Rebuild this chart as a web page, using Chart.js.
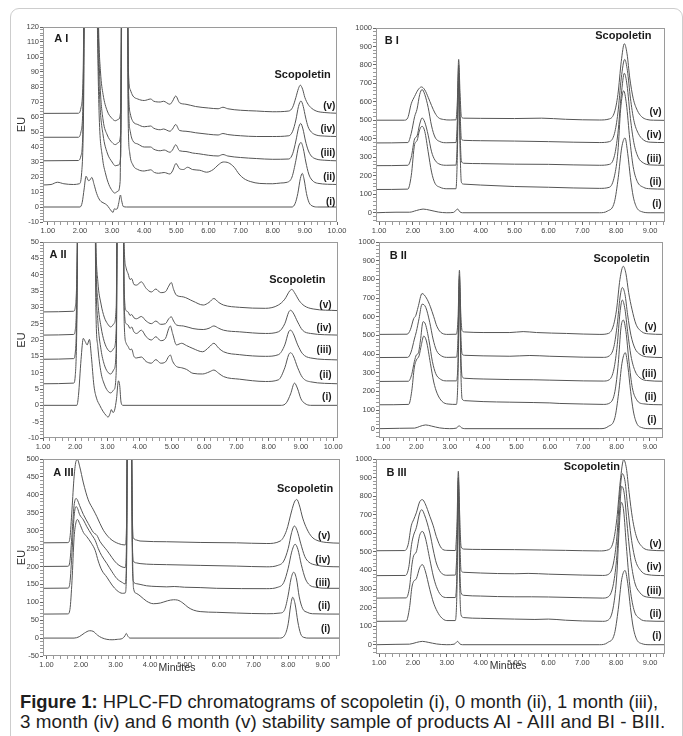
<!DOCTYPE html>
<html>
<head>
<meta charset="utf-8">
<script src="https://cdn.jsdelivr.net/npm/chart.js@4.4.1/dist/chart.umd.min.js"></script>
<style>
  body { margin: 0; background: #fff; width: 683px; height: 736px; overflow: hidden; position: relative;
         font-family: "Liberation Sans", Arial, sans-serif; }
  .frame { position: absolute; left: 10px; top: 8px; width: 673px; height: 800px; box-sizing: border-box;
           border: 1.5px solid #cdcdcd; border-radius: 9px; }
  canvas { position: absolute; }
  .cap { position: absolute; left: 20px; font-size: 18px; line-height: 20px; color: #1e1e1e;
         white-space: nowrap; transform-origin: 0 50%; }
</style>
</head>
<body>
<div class="frame"></div>
<canvas id="aI"></canvas>
<canvas id="bI"></canvas>
<canvas id="aII"></canvas>
<canvas id="bII"></canvas>
<canvas id="aIII"></canvas>
<canvas id="bIII"></canvas>
<div class="cap" id="cap1" style="top:692px"><b>Figure 1:</b> HPLC-FD chromatograms of scopoletin (i), 0 month (ii), 1 month (iii),</div>
<div class="cap" id="cap2" style="top:712px">3 month (iv) and 6 month (v) stability sample of products AI - AIII and BI - BIII.</div>
<script>
// trace names, bottom to top
const traceNames = ['(i)', '(ii)', '(iii)', '(iv)', '(v)'];

// ---- A I : [minutes, EU]
const aI_i = [[0.85,0],[2.0,0],[2.07,3],[2.13,12],[2.19,20.5],[2.27,17.5],[2.31,18],[2.37,19.7],[2.44,15],[2.52,9],[2.62,4.5],[2.75,2.5],[2.83,1.5],[2.92,-1],[2.98,-2.7],[3.03,-3.6],[3.07,-1.2],[3.11,-1.5],[3.16,-1.2],[3.21,3],[3.26,8],[3.3,4],[3.35,0.3],[3.45,0],[8.6,0],[8.7,2.5],[8.78,9],[8.86,19],[8.92,22.4],[8.98,18],[9.05,9],[9.13,3],[9.25,0.5],[9.4,0],[10,0]];
const aI_ii = [[0.85,14.7],[1.1,15],[1.3,16.5],[1.5,15.5],[1.8,15],[1.98,15.5],[2.05,22],[2.11,60],[2.17,200],[2.5,200],[2.55,110],[2.6,60],[2.7,33],[2.8,22],[2.9,15],[3.0,11],[3.08,9.3],[3.18,10.5],[3.25,17],[3.31,200],[3.46,200],[3.5,60],[3.55,36],[3.65,28],[3.8,25],[4.0,24],[4.2,24.8],[4.32,23],[4.45,22.5],[4.62,23],[4.8,22],[4.88,24],[4.99,29],[5.1,25.5],[5.22,25],[5.35,26.5],[5.5,25],[5.73,24.5],[5.94,23.2],[6.15,25],[6.3,28],[6.46,30],[6.62,29.5],[6.8,26.5],[6.95,22],[7.1,19],[7.3,17],[7.6,15.7],[8.0,15.5],[8.25,16],[8.45,16.5],[8.6,20],[8.72,31],[8.8,40],[8.88,43],[8.95,39],[9.03,30],[9.12,22],[9.22,18],[9.4,15.8],[10,15]];
const aI_iii = [[0.85,30.8],[1.95,31],[2.03,34],[2.1,60],[2.16,200],[2.5,200],[2.56,110],[2.62,70],[2.72,48],[2.85,36],[3.0,30],[3.1,27.5],[3.2,28],[3.27,34],[3.32,200],[3.46,200],[3.51,70],[3.57,50],[3.65,44],[3.8,42],[4.0,40],[4.2,40],[4.3,38.5],[4.5,37.5],[4.62,38],[4.8,36.5],[4.88,38],[4.98,41.5],[5.1,37.5],[5.3,37],[5.5,36],[5.7,35.5],[6.0,34.5],[6.3,34],[6.45,35],[6.6,34],[7.0,33],[7.5,32.3],[8.0,31.8],[8.5,32],[8.62,35.5],[8.72,44],[8.8,52.5],[8.87,55.7],[8.94,52],[9.02,44],[9.1,38],[9.2,34],[9.35,32],[9.6,31.2],[10,30.8]];
const aI_iv = [[0.85,46.5],[1.95,46.5],[2.03,50],[2.1,75],[2.16,200],[2.52,200],[2.57,120],[2.63,80],[2.72,58],[2.85,48],[3.0,43],[3.1,41.6],[3.2,43],[3.27,50],[3.32,200],[3.46,200],[3.51,80],[3.57,62],[3.65,57],[3.8,55],[4.0,53.5],[4.2,54],[4.3,52.5],[4.5,51.5],[4.6,52],[4.8,50.5],[4.88,52],[4.98,55],[5.1,51],[5.3,50.5],[5.6,49.5],[6.0,48.5],[6.3,48],[6.45,49],[6.6,48.3],[7.0,47.5],[7.5,47],[8.0,47],[8.5,47.5],[8.62,50.5],[8.72,58],[8.8,67],[8.88,70.7],[8.95,67],[9.02,60],[9.1,53.5],[9.2,50],[9.35,48],[9.6,47.3],[10,47]];
const aI_v = [[0.85,62.4],[1.95,62.5],[2.03,66],[2.1,90],[2.16,200],[2.53,200],[2.58,120],[2.64,90],[2.72,75],[2.85,64],[3.0,59],[3.1,57.5],[3.2,58.5],[3.27,65],[3.32,200],[3.46,200],[3.51,90],[3.57,78],[3.65,74],[3.8,72],[4.0,71],[4.2,72],[4.3,70.5],[4.5,70],[4.6,70.5],[4.8,68.5],[4.88,70.5],[4.98,74],[5.1,69.5],[5.3,68.5],[5.6,67],[6.0,66],[6.3,65.5],[6.45,66.5],[6.6,65.5],[7.0,64.5],[7.5,64],[8.0,63.5],[8.5,64],[8.62,66.5],[8.72,73],[8.8,79],[8.86,81.2],[8.93,78.5],[9.0,73],[9.1,68.5],[9.2,66],[9.35,64],[9.6,63],[10,62.5]];

// ---- B I
const bI_i = [[0.9,0],[1.5,3],[1.9,3],[2.1,12],[2.3,20],[2.5,14],[2.75,4],[3.0,0],[3.2,2],[3.32,20],[3.38,6],[3.46,0],[7.5,0],[7.75,10],[7.95,60],[8.06,190],[8.16,350],[8.26,405],[8.34,320],[8.42,190],[8.5,90],[8.6,30],[8.75,6],[9.0,0],[9.45,0]];
const bI_ii = [[0.9,126],[1.85,128],[1.95,200],[2.05,370],[2.12,390],[2.2,450],[2.27,468],[2.35,440],[2.45,330],[2.55,220],[2.65,160],[2.8,138],[3.0,130],[3.27,130],[3.31,300],[3.35,700],[3.39,350],[3.43,165],[3.5,155],[4.0,150],[5.0,142],[6.0,138],[7.5,132],[7.8,138],[7.95,200],[8.05,330],[8.13,560],[8.22,660],[8.3,590],[8.4,400],[8.5,250],[8.62,170],[8.8,138],[9.0,130],[9.45,128]];
const bI_iii = [[0.9,255],[1.85,257],[1.95,300],[2.05,400],[2.12,415],[2.2,480],[2.27,513],[2.35,490],[2.45,420],[2.55,330],[2.65,285],[2.8,262],[3.0,257],[3.27,258],[3.31,400],[3.35,760],[3.39,450],[3.43,280],[3.5,268],[4.0,266],[5.0,263],[6.0,262],[7.5,257],[7.8,262],[7.95,310],[8.05,430],[8.15,640],[8.24,755],[8.32,690],[8.42,510],[8.52,380],[8.65,300],[8.8,270],[9.0,259],[9.45,257]];
const bI_iv = [[0.9,378],[1.85,380],[1.95,430],[2.05,520],[2.12,560],[2.2,640],[2.27,667],[2.35,640],[2.45,570],[2.55,470],[2.65,410],[2.8,385],[3.0,379],[3.27,380],[3.31,500],[3.35,800],[3.39,560],[3.43,400],[3.5,392],[4.0,390],[5.0,388],[6.0,385],[7.5,380],[7.8,385],[7.95,430],[8.05,540],[8.15,730],[8.25,830],[8.33,770],[8.42,620],[8.52,500],[8.65,430],[8.8,395],[9.0,382],[9.45,380]];
const bI_v = [[0.9,501],[1.75,501],[1.85,515],[1.95,590],[2.05,630],[2.15,665],[2.25,681],[2.35,665],[2.45,625],[2.55,580],[2.65,540],[2.75,515],[2.9,505],[3.1,502],[3.27,503],[3.31,600],[3.35,830],[3.39,650],[3.43,520],[3.5,512],[4.0,511],[5.0,510],[5.8,512],[6.5,506],[7.5,502],[7.8,508],[7.95,545],[8.05,640],[8.15,820],[8.24,915],[8.32,860],[8.4,730],[8.5,620],[8.62,555],[8.75,520],[8.9,505],[9.1,501],[9.45,500]];

// ---- A II
const aII_i = [[1,0],[2.05,0],[2.1,3],[2.18,14],[2.25,20.5],[2.31,19.5],[2.37,18.5],[2.44,20.2],[2.5,15],[2.58,6],[2.66,2.2],[2.76,0],[2.86,-1.8],[2.95,-3],[3.02,-3.6],[3.08,-2.5],[3.12,-1.3],[3.17,-2.2],[3.22,-1.5],[3.28,2],[3.34,7.5],[3.38,6],[3.42,1],[3.48,0],[8.4,0],[8.55,0.8],[8.68,3.5],[8.8,6.8],[8.9,5],[9.0,2],[9.12,0.6],[9.3,0],[10.15,0]];
const aII_ii = [[1,6.6],[1.95,6.8],[2.0,9],[2.05,25],[2.1,80],[2.6,80],[2.64,30],[2.7,18],[2.8,10],[2.9,6.5],[3.0,4.5],[3.1,3.8],[3.2,4.8],[3.27,10],[3.32,80],[3.47,80],[3.52,25],[3.58,19],[3.64,18],[3.7,17],[3.75,17.2],[3.82,15],[3.9,14.5],[4.05,14.8],[4.2,13.4],[4.36,12.9],[4.5,14],[4.65,12.9],[4.8,13.3],[4.9,15],[4.95,15.4],[5.02,13.5],[5.14,11.9],[5.3,11.5],[5.45,11],[5.65,9.8],[5.95,9.6],[6.15,10.2],[6.3,10.8],[6.45,9.8],[6.6,8.8],[7.1,8],[7.9,7.3],[8.3,7.8],[8.5,11.5],[8.62,15.5],[8.68,16.1],[8.76,15.2],[8.9,11.5],[9.05,8.5],[9.3,7.2],[10.15,6.6]];
const aII_iii = [[1,14.1],[1.95,14.3],[2.0,16],[2.05,30],[2.1,80],[2.6,80],[2.64,40],[2.7,26],[2.8,17],[2.9,12.5],[3.0,10.3],[3.1,9.6],[3.2,11],[3.27,17],[3.32,80],[3.47,80],[3.52,30],[3.58,25],[3.64,24.6],[3.7,23.5],[3.75,24],[3.82,22.5],[3.9,22],[4.05,23],[4.2,21],[4.36,20],[4.5,21],[4.65,19.8],[4.8,20.5],[4.9,23.5],[4.95,24.3],[5.02,22],[5.14,18.5],[5.3,19],[5.45,18.3],[5.65,17.4],[5.95,16.4],[6.15,17.8],[6.3,19],[6.45,17.5],[6.6,16.4],[7.1,15.5],[7.9,15],[8.3,15.5],[8.5,18.5],[8.62,22.5],[8.68,23],[8.76,22],[8.9,18.5],[9.05,15.8],[9.3,14.5],[10.15,13.9]];
const aII_iv = [[1,21.5],[1.95,21.7],[2.0,23],[2.05,35],[2.1,80],[2.6,80],[2.64,45],[2.7,32],[2.8,24],[2.9,19.5],[3.0,17.2],[3.1,16.4],[3.2,17.5],[3.27,23],[3.32,80],[3.47,80],[3.52,35],[3.58,29],[3.64,28.6],[3.7,27.5],[3.75,27.8],[3.82,26.8],[3.9,26.5],[4.05,27.2],[4.2,25.8],[4.36,25],[4.5,25.8],[4.65,24.8],[4.8,25],[4.9,26.5],[4.98,27.1],[5.05,25.8],[5.14,24.6],[5.35,24.3],[5.65,23.5],[5.97,23.2],[6.15,23.6],[6.3,24.3],[6.45,23.6],[6.6,23],[7.1,22.5],[7.9,22],[8.3,22.5],[8.5,25],[8.62,28.5],[8.68,29.1],[8.76,28.3],[8.9,25.5],[9.05,23],[9.3,22],[10.15,21.5]];
const aII_v = [[1,28.6],[1.95,28.8],[2.0,30],[2.05,40],[2.1,80],[2.6,80],[2.64,50],[2.7,38],[2.8,31],[2.9,27],[3.0,25],[3.1,24],[3.2,25],[3.27,30],[3.32,80],[3.47,80],[3.52,48],[3.58,42],[3.64,40.3],[3.7,38.5],[3.75,38.8],[3.82,37],[3.9,36.8],[4.05,37.8],[4.2,35.8],[4.36,34.7],[4.5,35.6],[4.65,34.5],[4.8,34.8],[4.9,36.5],[4.98,37.6],[5.05,35.5],[5.14,33.7],[5.35,33.2],[5.65,31.9],[5.97,30.7],[6.15,31.5],[6.3,32.7],[6.45,31.5],[6.6,30.7],[7.1,30],[7.9,29.7],[8.3,30.7],[8.5,32.5],[8.65,35],[8.72,35.5],[8.8,34.5],[8.95,32],[9.1,30.5],[9.38,29.5],[10.15,29]];

// ---- B II
const bII_i = [[0.88,0],[1.5,2],[1.95,3],[2.1,12],[2.28,20],[2.45,14],[2.7,4],[3.0,0],[3.2,3],[3.28,16],[3.35,5],[3.45,0],[7.5,0],[7.75,12],[7.95,60],[8.06,190],[8.16,350],[8.26,407],[8.34,330],[8.42,200],[8.5,95],[8.6,30],[8.75,6],[9.0,0],[9.39,0]];
const bII_ii = [[0.88,128],[1.77,130],[1.86,200],[1.94,330],[2.0,368],[2.08,390],[2.15,450],[2.22,496],[2.3,470],[2.42,350],[2.52,250],[2.62,190],[2.77,146],[2.95,132],[3.2,130],[3.25,300],[3.29,760],[3.33,330],[3.37,160],[3.45,150],[4.0,145],[4.8,142],[5.5,140],[6.0,138],[6.3,135],[7.0,132],[7.6,130],[7.8,138],[7.95,200],[8.05,350],[8.13,540],[8.2,582],[8.28,520],[8.37,360],[8.47,220],[8.6,155],[8.8,133],[9.39,128]];
const bII_iii = [[0.88,253],[1.76,254],[1.86,290],[1.94,360],[2.0,395],[2.06,405],[2.12,470],[2.2,573],[2.27,560],[2.38,470],[2.48,360],[2.58,295],[2.72,265],[2.9,256],[3.2,256],[3.25,380],[3.29,800],[3.33,420],[3.37,280],[3.45,270],[4.0,266],[4.8,263],[5.5,262],[6.0,260],[7.0,256],[7.6,255],[7.78,262],[7.92,320],[8.02,450],[8.1,620],[8.17,689],[8.25,640],[8.33,520],[8.43,390],[8.55,310],[8.7,272],[8.9,258],[9.39,254]];
const bII_iv = [[0.88,381],[1.74,382],[1.84,410],[1.94,480],[2.0,520],[2.08,590],[2.17,667],[2.28,650],[2.4,570],[2.5,480],[2.6,420],[2.75,390],[2.95,382],[3.2,383],[3.25,500],[3.29,820],[3.33,520],[3.37,400],[3.45,393],[4.0,390],[4.8,388],[5.4,392],[6.0,388],[7.0,383],[7.6,382],[7.78,390],[7.92,440],[8.02,560],[8.1,700],[8.17,756],[8.25,720],[8.33,610],[8.43,500],[8.55,430],[8.7,398],[8.9,385],[9.39,381]];
const bII_v = [[0.88,505],[1.72,506],[1.82,530],[1.92,590],[1.98,605],[2.05,650],[2.17,724],[2.3,700],[2.42,653],[2.52,600],[2.62,546],[2.77,511],[2.95,505],[3.2,506],[3.25,600],[3.29,849],[3.33,620],[3.37,525],[3.45,518],[4.0,515],[4.8,515],[5.2,520],[5.6,515],[6.5,510],[7.5,505],[7.75,510],[7.9,550],[8.0,640],[8.1,800],[8.2,870],[8.28,830],[8.36,730],[8.46,640],[8.58,560],[8.75,520],[8.95,508],[9.39,505]];

// ---- A III
const aIII_i = [[0.9,0],[1.8,0],[1.95,4],[2.1,14],[2.25,20.5],[2.35,19],[2.48,8],[2.6,1],[2.75,-3.5],[2.9,-4.7],[3.05,-3.5],[3.2,-1],[3.27,6],[3.31,13],[3.36,5],[3.42,0],[7.75,0],[7.9,8],[8.0,40],[8.07,90],[8.13,114],[8.2,95],[8.28,45],[8.36,12],[8.45,2],[8.6,0],[9.5,0]];
const aIII_ii = [[0.9,67],[1.62,67.5],[1.68,80],[1.74,160],[1.8,280],[1.86,325],[1.9,331],[1.96,320],[2.07,295],[2.17,283],[2.3,265],[2.41,245],[2.5,215],[2.6,190],[2.75,170],[2.9,148],[3.04,133],[3.2,125],[3.28,126],[3.32,200],[3.35,600],[3.45,600],[3.49,250],[3.52,140],[3.6,125],[3.71,118],[3.9,103],[4.1,96],[4.3,98],[4.5,104],[4.68,107],[4.8,106],[4.95,98],[5.1,86],[5.26,78],[5.45,74],[5.93,72],[6.5,70],[7.38,68],[7.77,70],[7.9,80],[8.0,120],[8.08,165],[8.16,184],[8.24,165],[8.32,115],[8.42,82],[8.55,72],[8.7,68],[9.5,67]];
const aIII_iii = [[0.9,139],[1.62,139.5],[1.68,155],[1.74,240],[1.8,340],[1.86,367],[1.9,362],[1.96,345],[2.07,330],[2.17,311],[2.3,290],[2.41,273],[2.5,250],[2.6,230],[2.75,208],[2.9,185],[3.04,166],[3.2,155],[3.28,151],[3.32,240],[3.35,700],[3.45,700],[3.49,200],[3.52,158],[3.6,152],[3.71,150],[3.9,146],[4.2,144],[4.48,143],[4.7,144],[5.0,142],[5.45,141],[5.93,139],[7.38,138],[7.7,142],[7.87,155],[8.0,195],[8.1,240],[8.2,262],[8.28,248],[8.38,205],[8.5,165],[8.62,148],[8.8,142],[9.1,139],[9.5,139]];
const aIII_iv = [[0.9,200],[1.62,200.5],[1.68,215],[1.74,290],[1.8,370],[1.86,390],[1.9,385],[1.96,370],[2.07,345],[2.21,320],[2.36,295],[2.46,287],[2.55,270],[2.75,245],[3.04,208],[3.28,197],[3.32,280],[3.35,700],[3.45,700],[3.49,260],[3.52,215],[3.6,210],[3.71,208],[4.48,205],[5.45,203],[6.5,201],[7.38,199],[7.7,203],[7.87,215],[8.0,250],[8.1,295],[8.18,313],[8.26,300],[8.36,265],[8.48,228],[8.6,212],[8.8,204],[9.1,200],[9.5,199]];
const aIII_v = [[0.9,266],[1.62,266.5],[1.68,280],[1.74,360],[1.8,450],[1.86,495],[1.9,498],[1.96,480],[2.07,433],[2.21,386],[2.36,358],[2.46,339],[2.55,320],[2.65,301],[2.84,278],[3.08,264],[3.28,260],[3.32,320],[3.35,700],[3.45,700],[3.49,330],[3.52,280],[3.6,274],[3.71,271],[4.48,269],[5.45,267],[6.5,266],[7.38,264],[7.77,271],[7.95,300],[8.1,355],[8.18,380],[8.25,387],[8.32,372],[8.42,335],[8.54,305],[8.68,283],[8.83,273],[9.1,267],[9.5,265]];

// ---- B III
const bIII_i = [[0.9,0],[1.5,2],[1.9,3],[2.1,12],[2.28,18],[2.45,13],[2.7,4],[3.0,0],[3.22,3],[3.32,18],[3.38,5],[3.46,0],[7.5,0],[7.75,12],[7.95,60],[8.06,190],[8.16,350],[8.26,400],[8.34,330],[8.42,200],[8.5,95],[8.6,30],[8.75,6],[9.0,0],[9.45,0]];
const bIII_ii = [[0.9,126],[1.8,127],[1.9,200],[1.97,310],[2.02,341],[2.1,355],[2.2,415],[2.28,431],[2.36,400],[2.5,296],[2.6,230],[2.69,189],[2.82,150],[3.0,130],[3.25,130],[3.3,300],[3.34,820],[3.38,330],[3.42,160],[3.5,146],[4.0,142],[5.0,138],[5.6,136],[6.0,138],[6.5,132],[7.0,128],[7.6,126],[7.78,135],[7.92,210],[8.02,380],[8.08,600],[8.15,767],[8.22,720],[8.3,530],[8.4,320],[8.52,190],[8.7,140],[8.9,128],[9.45,126]];
const bIII_iii = [[0.9,251],[1.8,252],[1.9,310],[1.97,430],[2.02,479],[2.1,500],[2.2,590],[2.28,610],[2.36,580],[2.5,458],[2.6,370],[2.69,314],[2.82,268],[3.0,254],[3.25,254],[3.3,400],[3.34,880],[3.38,450],[3.42,280],[3.5,266],[4.0,262],[5.0,258],[5.5,258],[6.0,257],[7.0,253],[7.6,251],[7.78,260],[7.92,330],[8.02,480],[8.1,720],[8.16,853],[8.24,810],[8.32,650],[8.42,470],[8.54,340],[8.7,280],[8.9,257],[9.45,251]];
const bIII_iv = [[0.9,372],[1.78,373],[1.88,420],[1.96,540],[2.02,590],[2.1,630],[2.2,710],[2.26,727],[2.34,700],[2.5,601],[2.6,510],[2.69,440],[2.82,390],[3.0,374],[3.25,375],[3.3,520],[3.34,900],[3.38,600],[3.42,400],[3.5,390],[4.0,386],[5.0,382],[5.4,384],[6.0,380],[7.0,375],[7.6,373],[7.78,380],[7.92,440],[8.02,580],[8.1,800],[8.18,921],[8.26,880],[8.34,740],[8.44,580],[8.56,460],[8.72,400],[8.9,378],[9.45,372]];
const bIII_v = [[0.9,506],[1.76,507],[1.86,540],[1.95,640],[2.02,673],[2.1,710],[2.2,770],[2.28,781],[2.36,760],[2.5,691],[2.6,640],[2.69,583],[2.84,520],[3.0,508],[3.25,507],[3.3,650],[3.34,934],[3.38,700],[3.42,530],[3.5,515],[4.0,513],[5.0,512],[5.8,510],[6.5,508],[7.5,505],[7.78,512],[7.92,560],[8.02,680],[8.12,880],[8.22,996],[8.3,950],[8.38,820],[8.48,680],[8.6,580],[8.75,530],[8.95,510],[9.45,506]];

const FONT = '"Liberation Sans", Arial, sans-serif';
const PAD_TOP = 8, PAD_RIGHT = 12, X_H = 16;

// plot boxes on the page: [left, top, right, bottom]
const panels = [
  { id: 'aI', box: [43, 27, 337, 222], yw: 40, x: [0.85, 10], y: [-10, 120], yStep: 2, yEvery: 10, eu: true,
    series: [aI_i, aI_ii, aI_iii, aI_iv, aI_v],
    title: { text: 'A I', x: 1.2, y: 112 }, scop: { x: 8.93, y: 88 }, tagX: 9.95, tagY: [3.4, 20, 36, 51.6, 67.3] },
  { id: 'bI', box: [376, 28, 665, 222], yw: 36, x: [0.91, 9.44], y: [-50, 1000], yStep: 20, yEvery: 100,
    series: [bI_i, bI_ii, bI_iii, bI_iv, bI_v],
    title: { text: 'B I', x: 1.17, y: 928 }, scop: { x: 8.21, y: 955 }, tagX: 9.34, tagY: [45, 166, 288, 420, 544] },
  { id: 'aII', box: [43, 242, 338, 438], yw: 40, x: [1, 10.15], y: [-10, 50], yStep: 1, yEvery: 5, eu: true,
    series: [aII_i, aII_ii, aII_iii, aII_iv, aII_v],
    title: { text: 'A II', x: 1.2, y: 45.9 }, scop: { x: 8.89, y: 38.3 }, tagX: 9.95, tagY: [2.5, 9.3, 17, 23.6, 30.7] },
  { id: 'bII', box: [379, 242, 663, 438], yw: 36, x: [0.88, 9.39], y: [-50, 1000], yStep: 20, yEvery: 100,
    series: [bII_i, bII_ii, bII_iii, bII_iv, bII_v],
    title: { text: 'B II', x: 1.2, y: 923 }, scop: { x: 8.15, y: 911 }, tagX: 9.2, tagY: [43, 167, 294, 422, 541] },
  { id: 'aIII', box: [43, 459, 340, 656], yw: 40, x: [0.9, 9.5], y: [-50, 500], yStep: 10, yEvery: 50, eu: true,
    series: [aIII_i, aIII_ii, aIII_iii, aIII_iv, aIII_v],
    title: { text: 'A III', x: 1.2, y: 461 }, scop: { x: 8.49, y: 416 }, tagX: 9.22, tagY: [23.5, 89, 154.5, 217, 285],
    minutesX: 4.78 },
  { id: 'bIII', box: [376, 459, 665, 654], yw: 36, x: [0.91, 9.44], y: [-50, 1000], yStep: 20, yEvery: 100,
    series: [bIII_i, bIII_ii, bIII_iii, bIII_iv, bIII_v],
    title: { text: 'B III', x: 1.22, y: 925 }, scop: { x: 7.28, y: 957 }, tagX: 9.34, tagY: [45, 165, 287, 416, 539],
    minutesX: 4.81 }
];

function tickList(min, max, step) {
  const out = [];
  for (let k = Math.ceil(min / step - 1e-9); k * step <= max + 1e-9; k++) out.push({ value: +(k * step).toFixed(4) });
  return out;
}
function isMult(v, m) { const r = v / m; return Math.abs(r - Math.round(r)) < 1e-6; }

const decor = {
  id: 'decor',
  afterDraw(chart, args, p) {
    const { ctx, chartArea: a } = chart;
    const sx = chart.scales.x, sy = chart.scales.y;
    ctx.save();
    ctx.strokeStyle = '#9a9a9a';
    ctx.lineWidth = 1;
    ctx.strokeRect(Math.round(a.left) + 0.5, Math.round(a.top) + 0.5,
                   Math.round(a.right - a.left) - 1, Math.round(a.bottom - a.top) - 1);
    ctx.fillStyle = '#1a1a1a';
    ctx.textBaseline = 'middle';
    ctx.font = 'bold 11px ' + FONT;
    ctx.textAlign = 'left';
    ctx.fillText(p.title.text, sx.getPixelForValue(p.title.x), sy.getPixelForValue(p.title.y));
    ctx.textAlign = 'center';
    ctx.fillText('Scopoletin', sx.getPixelForValue(p.scop.x), sy.getPixelForValue(p.scop.y));
    ctx.font = 'bold 10px ' + FONT;
    ctx.textAlign = 'right';
    traceNames.forEach((t, i) => ctx.fillText(t, sx.getPixelForValue(p.tagX), sy.getPixelForValue(p.tagY[i])));
    ctx.fillStyle = '#333';
    if (p.eu) {
      ctx.save();
      ctx.translate(a.left - 21, (a.top + a.bottom) / 2);
      ctx.rotate(-Math.PI / 2);
      ctx.font = '11px ' + FONT;
      ctx.textAlign = 'center';
      ctx.fillText('EU', 0, 0);
      ctx.restore();
    }
    if (p.minutesX) {
      ctx.font = '10.5px ' + FONT;
      ctx.textAlign = 'center';
      ctx.fillText('Minutes', sx.getPixelForValue(p.minutesX), a.bottom + 12);
    }
    ctx.restore();
  }
};

panels.forEach(p => {
  const [L, T, R, B] = p.box;
  const cv = document.getElementById(p.id);
  cv.width = R - L + p.yw + PAD_RIGHT;
  cv.height = B - T + PAD_TOP + X_H;
  cv.style.left = (L - p.yw) + 'px';
  cv.style.top = (T - PAD_TOP) + 'px';

  new Chart(cv, {
    type: 'line',
    data: {
      datasets: p.series.map((s, i) => ({
        label: traceNames[i],
        data: s.map(pt => ({ x: pt[0], y: pt[1] })),
        borderColor: '#555',
        borderWidth: 1,
        pointRadius: 0,
        fill: false,
        cubicInterpolationMode: 'monotone'
      }))
    },
    options: {
      responsive: false,
      animation: false,
      devicePixelRatio: 1,
      events: [],
      layout: { padding: { top: PAD_TOP, right: PAD_RIGHT, left: 0, bottom: 0 } },
      plugins: { legend: { display: false }, tooltip: { enabled: false }, decor: p },
      scales: {
        x: {
          type: 'linear', min: p.x[0], max: p.x[1],
          afterBuildTicks: s => { s.ticks = tickList(p.x[0], p.x[1], 0.2); },
          afterFit: s => { s.height = X_H; },
          border: { display: false },
          grid: { drawOnChartArea: false, drawTicks: true, tickLength: 3,
                  tickColor: c => (c.tick && isMult(c.tick.value, 1)) ? '#666' : '#999' },
          ticks: { autoSkip: false, maxRotation: 0, padding: 1, color: '#444',
                   font: { size: 7.5, family: FONT },
                   callback: v => isMult(v, 1) ? v.toFixed(2) : '' }
        },
        y: {
          min: p.y[0], max: p.y[1],
          afterBuildTicks: s => { s.ticks = tickList(p.y[0], p.y[1], p.yStep); },
          afterFit: s => { s.width = p.yw; },
          border: { display: false },
          grid: { drawOnChartArea: false, drawTicks: true, tickLength: 3,
                  tickColor: c => (c.tick && isMult(c.tick.value, p.yEvery)) ? '#666' : '#999' },
          ticks: { autoSkip: false, padding: 1, color: '#444',
                   font: { size: 7.5, family: FONT },
                   callback: v => isMult(v, p.yEvery) ? String(Math.round(v)) : '' }
        }
      }
    },
    plugins: [decor]
  });
});

// stretch caption lines to the widths of the reference
[['cap1', 638], ['cap2', 645]].forEach(([id, w]) => {
  const el = document.getElementById(id);
  el.style.transform = 'scaleX(' + (w / el.offsetWidth) + ')';
});
</script>
</body>
</html>
